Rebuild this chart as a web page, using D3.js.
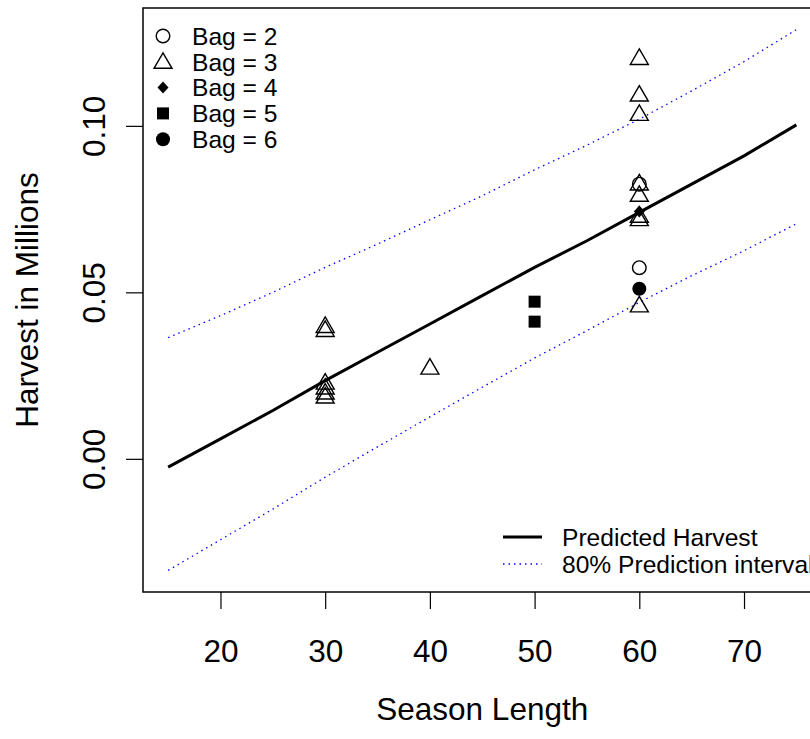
<!DOCTYPE html>
<html>
<head>
<meta charset="utf-8">
<script src="https://cdn.jsdelivr.net/npm/d3@7"></script>
<style>
    body { margin: 0; background: #fff; }
    svg { display: block; font-family: "Liberation Sans", Arial, Helvetica, sans-serif; }
</style>
</head>
<body>
<script>
const width = 810;
const height = 739;

// season length grid used for the fitted curves
const seasonGrid = [15, 20, 25, 30, 35, 40, 45, 50, 55, 60, 65, 70, 75];
const predicted = [-0.0025, 0.0060, 0.0145, 0.0235, 0.0320, 0.0405, 0.0490, 0.0575, 0.0655, 0.0740, 0.0825, 0.0910, 0.1003];
const upperPI = [0.0364, 0.0430, 0.0500, 0.0575, 0.0645, 0.0718, 0.0790, 0.0868, 0.0942, 0.1020, 0.1105, 0.1193, 0.1289];
const lowerPI = [-0.0335, -0.0243, -0.0151, -0.0055, 0.0036, 0.0126, 0.0215, 0.0303, 0.0385, 0.0470, 0.0550, 0.0625, 0.0706];

// observed harvest by bag limit
const bag2 = [[60, 0.0825], [60, 0.0574]];
const bag3 = [[30, 0.0399], [30, 0.0387], [30, 0.0229], [30, 0.0214], [30, 0.0199], [30, 0.0187],
    [40, 0.0274],
    [60, 0.1204], [60, 0.1094], [60, 0.1036], [60, 0.0827], [60, 0.0793], [60, 0.0730], [60, 0.0720], [60, 0.0461]];
const bag4 = [[60, 0.0743]];
const bag5 = [[50, 0.0472], [50, 0.0412]];
const bag6 = [[60, 0.0511]];

const xTicks = [20, 30, 40, 50, 60, 70];
const yTicks = [0.00, 0.05, 0.10];
const bagLabels = ['Bag = 2', 'Bag = 3', 'Bag = 4', 'Bag = 5', 'Bag = 6'];
const lineLabels = ['Predicted Harvest', '80% Prediction interval'];

const plot = {left: 143, right: 821.5, top: 8, bottom: 592};
const axisFont = "31.5px";
const legendFont = "24.6px";

// R style 4% padding around the data range
const pad = function(ext) {
    const d = (ext[1] - ext[0]) * 0.04;
    return [ext[0] - d, ext[1] + d];
}
const allY = predicted.concat(upperPI, lowerPI, [bag2, bag3, bag4, bag5, bag6].flat().map(p => p[1]));

const x = d3.scaleLinear().domain(pad(d3.extent(seasonGrid))).range([plot.left, plot.right]);
const y = d3.scaleLinear().domain(pad(d3.extent(allY))).range([plot.bottom, plot.top]);

const svg = d3.select("body").append("svg")
    .attr("width", width)
    .attr("height", height);

// symbol drawers, pch 1, 2, 18, 15, 16
const symbols = {
    circle: (g, cx, cy) => g.append("circle").attr("cx", cx).attr("cy", cy).attr("r", 6.8)
        .attr("fill", "none").attr("stroke", "#000").attr("stroke-width", 1.4),
    triangle: (g, cx, cy) => g.append("path")
        .attr("d", `M${cx},${cy - 9}L${cx + 9},${cy + 6.5}L${cx - 9},${cy + 6.5}Z`)
        .attr("fill", "none").attr("stroke", "#000").attr("stroke-width", 1.4),
    diamond: (g, cx, cy) => g.append("path")
        .attr("d", `M${cx},${cy - 6}L${cx + 5.5},${cy}L${cx},${cy + 6}L${cx - 5.5},${cy}Z`)
        .attr("fill", "#000"),
    square: (g, cx, cy) => g.append("rect").attr("x", cx - 6).attr("y", cy - 6)
        .attr("width", 12).attr("height", 12).attr("fill", "#000"),
    dot: (g, cx, cy) => g.append("circle").attr("cx", cx).attr("cy", cy).attr("r", 7).attr("fill", "#000")
};

// fitted line and interval
const curve = function(values) {
    return d3.line()
        .x((d, i) => x(seasonGrid[i]))
        .y(d => y(d))(values);
}

svg.append("path")
    .attr("d", curve(upperPI))
    .attr("fill", "none").attr("stroke", "#0000ff").attr("stroke-width", 1.3)
    .attr("stroke-dasharray", "1.5,4");
svg.append("path")
    .attr("d", curve(lowerPI))
    .attr("fill", "none").attr("stroke", "#0000ff").attr("stroke-width", 1.3)
    .attr("stroke-dasharray", "1.5,4");
svg.append("path")
    .attr("d", curve(predicted))
    .attr("fill", "none").attr("stroke", "#000").attr("stroke-width", 3);

// points
const groups = [[bag2, 'circle'], [bag3, 'triangle'], [bag4, 'diamond'], [bag5, 'square'], [bag6, 'dot']];
const pts = svg.append("g");
groups.forEach(([data, kind]) => {
    data.forEach(d => symbols[kind](pts, x(d[0]), y(d[1])));
});

// plot frame
svg.append("rect")
    .attr("x", plot.left).attr("y", plot.top)
    .attr("width", plot.right - plot.left).attr("height", plot.bottom - plot.top)
    .attr("fill", "none").attr("stroke", "#000").attr("stroke-width", 1.5);

// axes
const xAxis = svg.append("g")
    .attr("transform", `translate(0,${plot.bottom})`)
    .call(d3.axisBottom(x).tickValues(xTicks).tickSize(17).tickPadding(0).tickFormat(d3.format("d")));
xAxis.select(".domain").remove();
xAxis.selectAll("line").attr("stroke", "#000").attr("stroke-width", 1.2);
xAxis.selectAll("text")
    .attr("y", 70).attr("dy", null)
    .attr("fill", "#000").style("font-size", axisFont);

const yAxis = svg.append("g")
    .attr("transform", `translate(${plot.left},0)`)
    .call(d3.axisLeft(y).tickValues(yTicks).tickSize(17).tickFormat(d3.format(".2f")));
yAxis.select(".domain").remove();
yAxis.selectAll("line").attr("stroke", "#000").attr("stroke-width", 1.2);
yAxis.selectAll("text")
    .attr("x", null).attr("dy", null)
    .attr("text-anchor", "middle")
    .attr("transform", "translate(-38,0) rotate(-90)")
    .attr("fill", "#000").style("font-size", axisFont);

// axis titles
svg.append("text")
    .attr("x", (plot.left + plot.right) / 2).attr("y", 720)
    .attr("text-anchor", "middle").style("font-size", axisFont)
    .text("Season Length");
svg.append("text")
    .attr("transform", `translate(38,${(plot.top + plot.bottom) / 2}) rotate(-90)`)
    .attr("text-anchor", "middle").style("font-size", axisFont)
    .text("Harvest in Millions");

// bag legend, top left
const legendKinds = ['circle', 'triangle', 'diamond', 'square', 'dot'];
const bagLegend = svg.append("g");
bagLabels.forEach((label, i) => {
    const ly = 36 + i * 25.8;
    symbols[legendKinds[i]](bagLegend, 163, ly);
    bagLegend.append("text")
        .attr("x", 192).attr("y", ly + 8.7)
        .style("font-size", legendFont)
        .text(label);
});

// line legend, bottom right
const lineLegend = svg.append("g");
lineLabels.forEach((label, i) => {
    const ly = 537 + i * 27;
    lineLegend.append("line")
        .attr("x1", 503).attr("x2", 542).attr("y1", ly).attr("y2", ly)
        .attr("stroke", i === 0 ? "#000" : "#0000ff")
        .attr("stroke-width", i === 0 ? 3 : 1.3)
        .attr("stroke-dasharray", i === 0 ? null : "1.5,4");
    lineLegend.append("text")
        .attr("x", 562).attr("y", ly + 8.7)
        .style("font-size", legendFont)
        .text(label);
});
</script>
</body>
</html>
